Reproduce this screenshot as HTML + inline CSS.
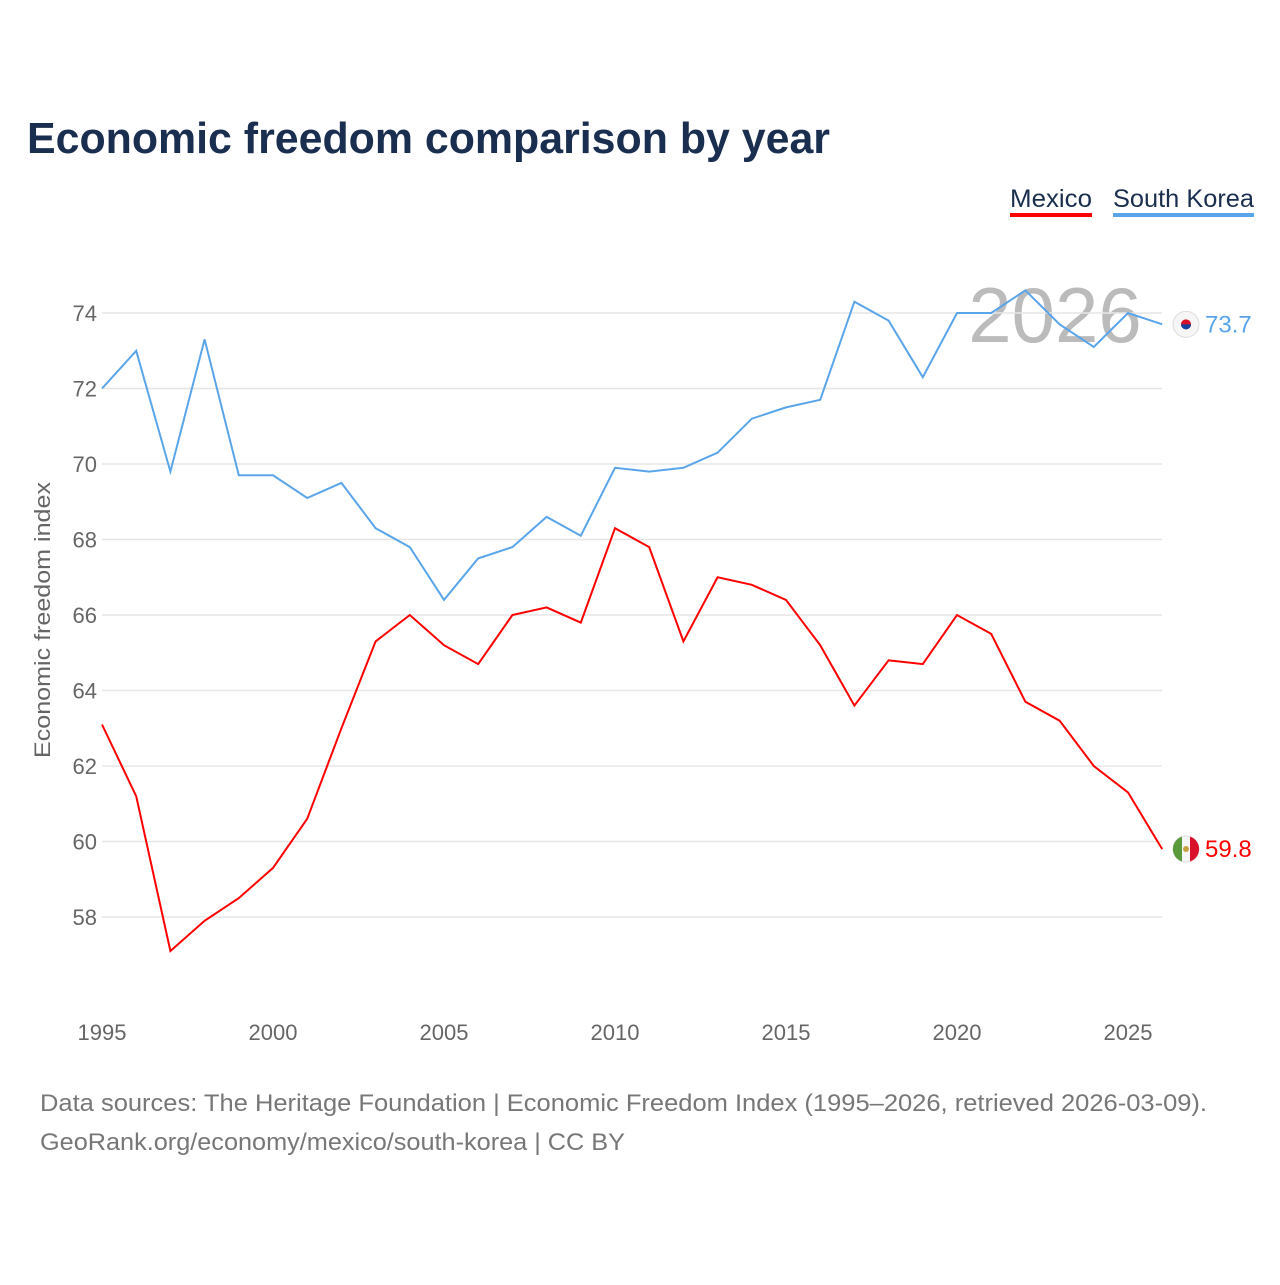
<!DOCTYPE html>
<html><head><meta charset="utf-8">
<style>
body{margin:0;background:#fff;font-family:"Liberation Sans",sans-serif;}
svg text{font-family:"Liberation Sans",sans-serif;}
</style></head>
<body>
<svg id="chart" width="1280" height="1280" viewBox="0 0 1280 1280">
<text x="27" y="153" font-size="44" font-weight="bold" fill="#1a2e4f" textLength="803" lengthAdjust="spacingAndGlyphs">Economic freedom comparison by year</text>
<g>
<text x="1010" y="207" font-size="25" fill="#1a2e4f" textLength="82" lengthAdjust="spacingAndGlyphs">Mexico</text>
<rect x="1010" y="213" width="82" height="4" fill="#ff0000"/>
<text x="1113" y="207" font-size="25" fill="#1a2e4f" textLength="141" lengthAdjust="spacingAndGlyphs">South Korea</text>
<rect x="1113" y="213" width="141" height="4" fill="#5aa5ea"/>
</g>
<text x="1055" y="342" font-size="78" fill="#bbbbbb" text-anchor="middle">2026</text>
<g id="grid"></g>
<g id="xaxis"></g>
<text transform="translate(50,620) rotate(-90)" font-size="22" fill="#666" text-anchor="middle" textLength="276" lengthAdjust="spacingAndGlyphs">Economic freedom index</text>
<g id="series"></g>
<text x="40" y="1111" font-size="24" fill="#777" textLength="1167" lengthAdjust="spacingAndGlyphs">Data sources: The Heritage Foundation | Economic Freedom Index (1995–2026, retrieved 2026-03-09).</text>
<text x="40" y="1150" font-size="24" fill="#777" textLength="585" lengthAdjust="spacingAndGlyphs">GeoRank.org/economy/mexico/south-korea | CC BY</text>
</svg>
<script>
const years = [1995,1996,1997,1998,1999,2000,2001,2002,2003,2004,2005,2006,2007,2008,2009,2010,2011,2012,2013,2014,2015,2016,2017,2018,2019,2020,2021,2022,2023,2024,2025,2026];
const mexico = [63.1,61.2,57.1,57.9,58.5,59.3,60.6,63.0,65.3,66.0,65.2,64.7,66.0,66.2,65.8,68.3,67.8,65.3,67.0,66.8,66.4,65.2,63.6,64.8,64.7,66.0,65.5,63.7,63.2,62.0,61.3,59.8];
const korea = [72.0,73.0,69.8,73.3,69.7,69.7,69.1,69.5,68.3,67.8,66.4,67.5,67.8,68.6,68.1,69.9,69.8,69.9,70.3,71.2,71.5,71.7,74.3,73.8,72.3,74.0,74.0,74.6,73.7,73.1,74.0,73.7];
const yTicks = [58,60,62,64,66,68,70,72,74];
const xTicks = [1995,2000,2005,2010,2015,2020,2025];
const NS="http://www.w3.org/2000/svg";
const X = y => 102 + (y-1995)*34.2;
const Y = v => 313 + (74-v)*37.75;
function mk(tag, attrs, parent){const e=document.createElementNS(NS,tag);for(const k in attrs)e.setAttribute(k,attrs[k]);parent.appendChild(e);return e;}
const grid=document.getElementById('grid'), xa=document.getElementById('xaxis'), ser=document.getElementById('series');
yTicks.forEach(t=>{
  const l=mk('line',{x1:102,x2:1162,y1:Y(t),y2:Y(t),stroke:'#e6e6e6','stroke-width':1.5},grid);
  
  
  const tx=mk('text',{x:97,y:Y(t)+8,'font-size':22,fill:'#666','text-anchor':'end'},grid);
  tx.textContent=t;
  
  
});
xTicks.forEach(t=>{
  const tx=mk('text',{x:X(t),y:1040,'font-size':22,fill:'#666','text-anchor':'middle'},xa);
  tx.textContent=t;
  
  
});
function line(vals,color,name,flagColors){
  const p=mk('path',{d:vals.map((v,i)=>(i?'L':'M')+X(years[i]).toFixed(1)+','+Y(v).toFixed(1)).join(''),fill:'none',stroke:color,'stroke-width':2},ser);
  
  
  const lv=vals[vals.length-1], ly=Y(lv);
  const c=mk('circle',{cx:1186,cy:ly,r:13,fill:'#f6f6f6',stroke:'#ddd'},ser);
  
  
  if(flagColors==='mx'){
    mk('path',{d:`M1182,${ly-12.4}A13,13 0 0,0 1182,${ly+12.4}Z`,fill:'#5a9a3a'},ser);
    mk('path',{d:`M1190,${ly-12.4}A13,13 0 0,1 1190,${ly+12.4}Z`,fill:'#d8102a'},ser);
    mk('circle',{cx:1186,cy:ly,r:3,fill:'#c8a040'},ser);
  } else {
    mk('circle',{cx:1186,cy:ly,r:5,fill:'#d8102a'},ser);
    mk('path',{d:`M1181,${ly}A5,5 0 0,0 1191,${ly}Z`,fill:'#1040a0'},ser);
  }
  const t=mk('text',{x:1205,y:ly+8,'font-size':24,fill:color},ser);
  t.textContent=lv.toFixed(1);
  
  
}
line(korea,'#5aa5ea','south-korea','kr');
line(mexico,'#ff0000','mexico','mx');
</script>
</body></html>
